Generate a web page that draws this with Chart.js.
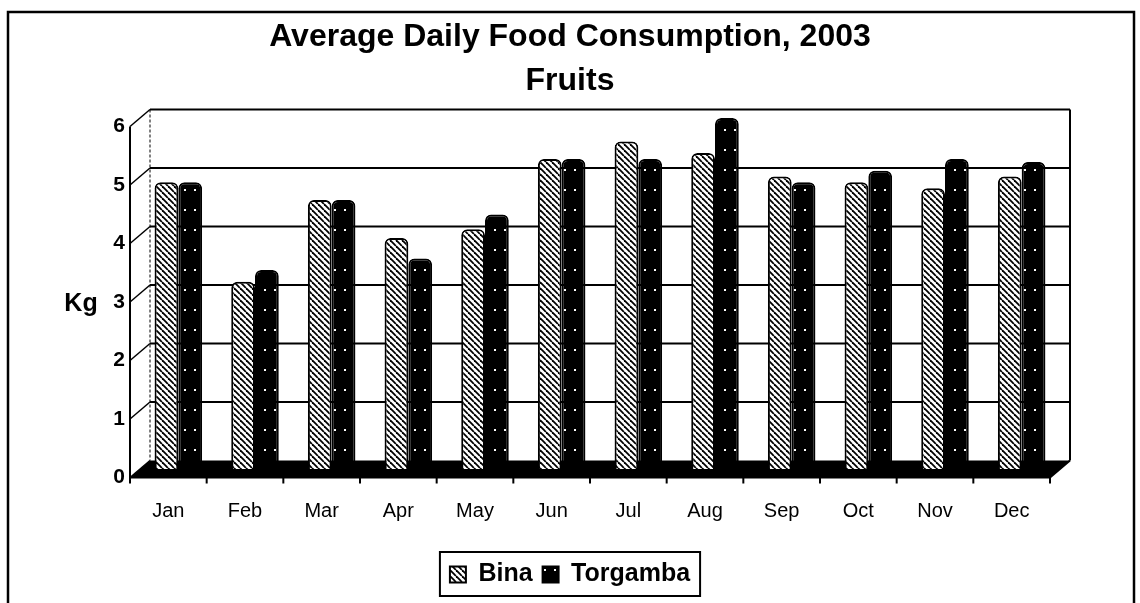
<!DOCTYPE html>
<html><head><meta charset="utf-8">
<script src="https://cdn.jsdelivr.net/npm/chart.js@4.4.1/dist/chart.umd.min.js"></script>
<style>html,body{margin:0;padding:0;background:#fff;overflow:hidden}canvas{display:block}</style>
</head><body>
<canvas id="c" width="1140" height="603"></canvas>
<script>
const categories = ['Jan','Feb','Mar','Apr','May','Jun','Jul','Aug','Sep','Oct','Nov','Dec'];
const binaValues = [4.9,3.2,4.6,3.95,4.1,5.3,5.6,5.4,5.0,4.9,4.8,5.0];
const torgambaValues = [4.9,3.4,4.6,3.6,4.35,5.3,5.3,6.0,4.9,5.1,5.3,5.25];
const yTickValues = [0,1,2,3,4,5,6];
const titleLines = ['Average Daily Food Consumption, 2003','Fruits'];
const seriesNames = ['Bina','Torgamba'];
const yAxisLabel = 'Kg';

const canvas = document.getElementById('c');
const mainCtx = canvas.getContext('2d');
function hatchPattern(){
  const c=document.createElement('canvas'); c.width=6;c.height=6;
  const x=c.getContext('2d'); x.fillStyle='#fff'; x.fillRect(0,0,6,6);
  x.strokeStyle='#000'; x.lineWidth=1.8;
  for(const k of [-6,0,6]){x.beginPath();x.moveTo(k,0);x.lineTo(k+6,6);x.stroke();}
  return mainCtx.createPattern(c,'repeat');
}
function dotPattern(){
  const c=document.createElement('canvas'); c.width=10;c.height=20;
  const x=c.getContext('2d'); x.fillStyle='#000'; x.fillRect(0,0,10,20);
  x.fillStyle='#fff'; x.fillRect(4,9,2,2);
  return mainCtx.createPattern(c,'repeat');
}

const DX=10, DY=8.5;
const scene3d = {
  id:'scene3d',
  beforeDatasetsDraw(chart){
    const {ctx, chartArea:a, scales:{x,y}} = chart;
    const yb = v => y.getPixelForValue(v) - DY;
    const yf = v => y.getPixelForValue(v) + DY;
    const L=a.left, R=a.right;
    const top = yTickValues[yTickValues.length-1];
    ctx.save();
    ctx.fillStyle='#000';
    ctx.beginPath(); ctx.moveTo(L-DX, yf(0)); ctx.lineTo(R-DX, yf(0)); ctx.lineTo(R+DX, yb(0)); ctx.lineTo(L+DX, yb(0)); ctx.closePath(); ctx.fill();
    ctx.strokeStyle='#000'; ctx.lineWidth=2;
    yTickValues.forEach(v=>{ if(v===0) return; ctx.beginPath(); ctx.moveTo(L+DX, yb(v)); ctx.lineTo(R+DX, yb(v)); ctx.stroke(); });
    ctx.beginPath(); ctx.moveTo(R+DX, yb(top)); ctx.lineTo(R+DX, yb(0)); ctx.stroke();
    ctx.lineWidth=1; ctx.setLineDash([3,2]);
    ctx.beginPath(); ctx.moveTo(L+DX, yb(top)); ctx.lineTo(L+DX, yb(0)); ctx.stroke();
    ctx.setLineDash([]);
    ctx.lineWidth=1.5;
    yTickValues.forEach(v=>{ ctx.beginPath(); ctx.moveTo(L-DX, yf(v)); ctx.lineTo(L+DX, yb(v)); ctx.stroke(); });
    ctx.lineWidth=2;
    ctx.beginPath(); ctx.moveTo(L-DX, yf(top)); ctx.lineTo(L-DX, yf(0)); ctx.lineTo(R-DX, yf(0)); ctx.lineTo(R+DX, yb(0)); ctx.stroke();
    const step = x.getPixelForValue(1)-x.getPixelForValue(0);
    for(let i=0;i<=categories.length;i++){ const px = x.getPixelForValue(0) - step/2 + step*i - DX; ctx.beginPath(); ctx.moveTo(px, yf(0)); ctx.lineTo(px, yf(0)+6); ctx.stroke(); }
    ctx.restore();
  },
  afterDraw(chart){
    const {ctx, scales:{y}} = chart;
    ctx.save();
    ctx.fillStyle='#000';
    ctx.font='bold 25px "Liberation Sans", Arial, sans-serif';
    ctx.textAlign='center'; ctx.textBaseline='middle';
    ctx.fillText(yAxisLabel, 81, y.getPixelForValue(3)+DY+2);
    const hb = chart.legend.legendHitBoxes;
    if(hb && hb.length){
      const l=Math.min(...hb.map(h=>h.left))-10, r=Math.max(...hb.map(h=>h.left+h.width))+10;
      const t=Math.min(...hb.map(h=>h.top))-10, b=Math.max(...hb.map(h=>h.top+h.height))+9;
      ctx.lineWidth=2; ctx.strokeStyle='#000'; ctx.strokeRect(l,t,r-l,b-t);
    }
    ctx.lineWidth=2.5; ctx.strokeStyle='#000';
    ctx.strokeRect(8,12,1126,640);
    ctx.restore();
  }
};

Chart.defaults.font.family = '"Liberation Sans", Arial, sans-serif';
Chart.defaults.color = '#000';
new Chart(canvas, {
  type:'bar',
  data:{
    labels: categories,
    datasets:[
      {label: seriesNames[0], data: binaValues, backgroundColor: hatchPattern(), borderColor:'#000', borderWidth:2, borderSkipped:'bottom', borderRadius:{topLeft:6,topRight:6}},
      {label: seriesNames[1], data: torgambaValues, backgroundColor: dotPattern(), borderColor:'#000', borderWidth:2, borderSkipped:'bottom', borderRadius:{topLeft:6,topRight:6}}
    ]
  },
  options:{
    responsive:false, animation:false, devicePixelRatio:1,
    layout:{padding:{left:0,right:0,top:0,bottom:6}},
    datasets:{bar:{categoryPercentage:0.62, barPercentage:1.0}},
    plugins:{
      title:{display:true, text:titleLines, color:'#000', font:{size:32, weight:'bold', lineHeight:1.375}, padding:{top:15,bottom:15}},
      legend:{position:'bottom', labels:{color:'#000', font:{size:25, weight:'bold'}, boxWidth:16, boxHeight:16, padding:10}},
      tooltip:{enabled:false}
    },
    scales:{
      x:{grid:{display:false, drawTicks:false}, border:{display:false},
         ticks:{font:{size:20}, color:'#000', labelOffset:-DX, padding:30},
         afterFit(s){ s.height = 83; }},
      y:{min:0, max:6, grid:{display:false, drawTicks:false}, border:{display:false},
         afterBuildTicks(s){ s.ticks = yTickValues.map(v=>({value:v})); },
         ticks:{font:{size:21, weight:'bold'}, color:'#000', labelOffset:DY, padding:15},
         afterFit(s){ s.width = 140; }},
      yRight:{axis:'y', position:'right', display:true, grid:{display:false, drawTicks:false}, border:{display:false},
         ticks:{display:false}, afterFit(s){ s.width = 80; }}
    }
  },
  plugins:[scene3d]
});
</script>
</body></html>
